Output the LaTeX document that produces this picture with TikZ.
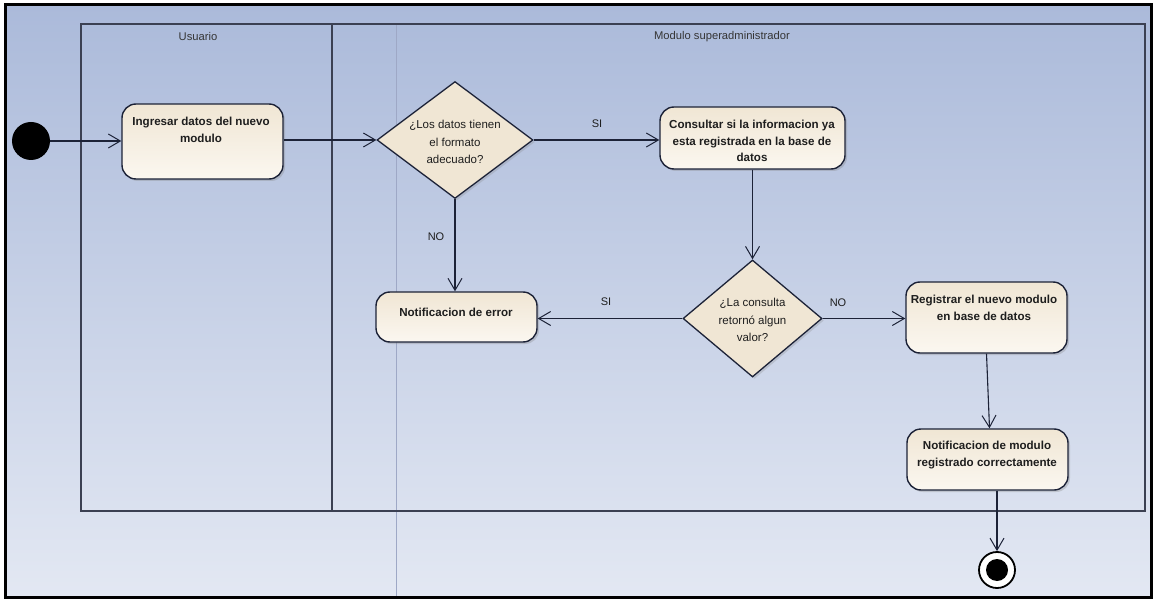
\documentclass[tikz,border=0pt]{standalone}
\usepackage{fontspec}
\setmainfont{Liberation Sans}
\usetikzlibrary{arrows.meta,shapes.geometric,shadows}
\definecolor{bgtop}{HTML}{ABBADA}
\definecolor{bgbot}{HTML}{E3E8F3}
\definecolor{ln}{HTML}{1C2237}
\definecolor{lane}{HTML}{3B4052}
\definecolor{cream}{HTML}{F0E6D4}
\definecolor{creamlt}{HTML}{FBF7F0}
\definecolor{guide}{HTML}{9EA8C6}
\definecolor{txtc}{HTML}{1E1E1E}
\begin{document}
\begin{tikzpicture}[x=1pt,y=-1pt,
  action/.style={draw=ln, line width=1.4pt, rounded corners=14pt, inner sep=0pt,
    top color=cream, bottom color=creamlt,
    drop shadow={opacity=0.3, shadow xshift=2pt, shadow yshift=-2pt}},
  decision/.style={diamond, draw=ln, line width=1.3pt, inner sep=0pt, fill=cream,
    drop shadow={opacity=0.25, shadow xshift=2pt, shadow yshift=-2pt}},
  btxt/.style={font=\fontsize{11.6}{16.5}\selectfont\bfseries, align=center, text=txtc, inner sep=0pt},
  ntxt/.style={font=\fontsize{11.5}{17.5}\selectfont, align=center, text=txtc, inner sep=0pt},
  lbl/.style={font=\fontsize{11}{12}\selectfont, text=txtc, inner sep=0pt},
  lanetitle/.style={font=\fontsize{11.2}{12}\selectfont, text=txtc!90, inner sep=0pt},
  arr/.style={draw=ln, line width=1.1pt, -{Straight Barb[length=12pt,width=14pt,line width=1pt]}},
  line/.style={draw=ln, line width=1.1pt}]
\useasboundingbox (0,0) rectangle (1155,601);
% background and frame
\fill[white] (0,0) rectangle (1155,601);
\shade[top color=bgtop, bottom color=bgbot] (5,5) rectangle (1151,597);
\draw[black, line width=3pt] (5,5) rectangle (1151,597);
% guide line
\draw[guide, line width=0.8pt] (396,24) -- (396,596);
% swimlanes
\draw[lane, line width=1.3pt] (81,24) rectangle (1145,511);
\draw[lane, line width=1.3pt] (332,24) -- (332,511);
\node[lanetitle] (tu) at (198,37) {Usuario};
\node[lanetitle] (tm) at (722,37) {Modulo superadministrador};
% nodes
\node[circle, fill=black, minimum size=38pt, inner sep=0pt] (init) at (31,141) {};
\node[action, minimum width=161pt, minimum height=75pt] (a1) at (202.5,141.5) {};
\node[btxt] (t1) at (201,130) {Ingresar datos del nuevo\\modulo};
\node[decision, minimum width=156pt, minimum height=117pt] (d1) at (455,140) {};
\node[ntxt] (td1) at (455,142) {¿Los datos tienen\\el formato\\adecuado?};
\node[action, minimum width=185pt, minimum height=62pt] (a2) at (752.5,138) {};
\node[btxt] (t2) at (752,141) {Consultar si la informacion ya\\esta registrada en la base de\\datos};
\node[decision, minimum width=139pt, minimum height=117pt] (d2) at (752.5,318.5) {};
\node[ntxt] (td2) at (752.5,320) {¿La consulta\\retornó algun\\valor?};
\node[action, minimum width=161pt, minimum height=50pt] (a3) at (456.5,317) {};
\node[btxt] (t3) at (456,312) {Notificacion de error};
\node[action, minimum width=161pt, minimum height=71pt] (a4) at (986.5,317.5) {};
\node[btxt] (t4) at (984,308) {Registrar el nuevo modulo\\en base de datos};
\node[action, minimum width=161pt, minimum height=61pt] (a5) at (987.5,459.5) {};
\node[btxt] (t5) at (987,455) {Notificacion de modulo\\registrado correctamente};
\node[circle, draw=black, line width=1.8pt, fill=white, minimum size=36pt, inner sep=0pt] (fin) at (997,570) {};
\node[circle, fill=black, minimum size=22pt, inner sep=0pt] (findot) at (fin) {};
% connectors
\draw[arr] (init.east) -- (init.east -| a1.west);
\draw[arr] (a1.east |- d1.west) -- (d1.west);
\draw[arr] (d1.east) -- (d1.east -| a2.west);
\draw[arr] (a2.south) -- (d2.north);
\draw[arr] (d2.west) -- (d2.west -| a3.east);
\draw[arr] (d1.south) -- (d1.south |- a3.north);
\draw[arr] (d2.east) -- (d2.east -| a4.west);
\draw[arr] (a4.south) -- ([xshift=2pt]a5.north);
\draw[arr] (fin |- a5.south) -- (fin.north);
% guard labels
\node[lbl] (g1) at (597,124) {SI};
\node[lbl] (g2) at (436,237) {NO};
\node[lbl] (g3) at (606,302) {SI};
\node[lbl] (g4) at (838,303) {NO};
\end{tikzpicture}
\end{document}
